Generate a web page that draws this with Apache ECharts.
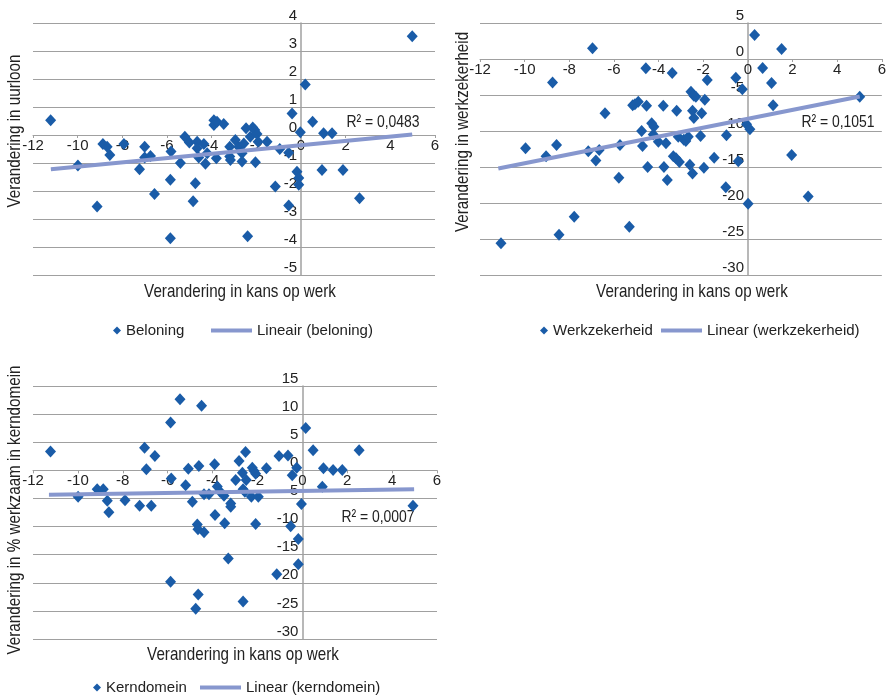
<!DOCTYPE html>
<html>
<head>
<meta charset="utf-8">
<script src="https://cdn.jsdelivr.net/npm/echarts@6/dist/echarts.min.js"></script>
<style>
  html, body { margin: 0; padding: 0; background: #fff; }
  #chart { width: 889px; height: 696px; }
</style>
</head>
<body>
<div id="chart"></div>
<script>
// punten: [verandering in kans op werk, verandering]
var beloning = [
  [-11.21, 0.53], [-9.99, -1.09], [-9.13, -2.55], [-8.87, -0.32], [-8.68, -0.42], [-8.56, -0.71],
  [-7.93, -0.32], [-7.23, -1.22], [-7.0, -0.42], [-7.0, -0.8], [-6.74, -0.75], [-6.56, -2.11],
  [-5.85, -1.6], [-5.85, -3.69], [-5.82, -0.59], [-5.4, -1.0], [-5.2, -0.06], [-5.0, -0.27],
  [-4.83, -2.37], [-4.73, -1.72], [-4.65, -0.24], [-4.65, -0.47], [-4.58, -0.8], [-4.35, -0.32],
  [-4.28, -1.03], [-4.2, -0.65], [-3.9, 0.53], [-3.9, 0.36], [-3.76, 0.47], [-3.79, -0.83],
  [-3.46, 0.39], [-3.19, -0.42], [-3.19, -0.77], [-3.16, -0.89], [-2.94, -0.18], [-2.79, -0.42],
  [-2.64, -0.65], [-2.64, -0.95], [-2.56, -0.3], [-2.46, 0.24], [-2.39, -3.62], [-2.27, -0.06],
  [-2.16, 0.27], [-2.07, 0.18], [-2.04, -0.97], [-1.97, 0.04], [-1.92, -0.24], [-1.52, -0.24],
  [-1.15, -1.84], [-0.95, -0.5], [-0.55, -0.63], [-0.55, -2.52], [-0.4, 0.77], [-0.18, -1.31],
  [-0.1, -1.54], [-0.1, -1.78], [-0.03, 0.1], [0.19, 1.8], [0.52, 0.47], [0.94, -1.25],
  [1.01, 0.06], [1.39, 0.06], [1.88, -1.25], [2.62, -2.26], [4.98, 3.53]
];
var werkzekerheid = [
  [-11.06, -25.6], [-9.96, -12.4], [-9.04, -13.5], [-8.75, -3.26], [-8.57, -11.95], [-8.46, -24.4],
  [-7.78, -21.9], [-7.15, -12.8], [-6.96, 1.49], [-6.81, -14.1], [-6.66, -12.65], [-6.4, -7.53],
  [-5.78, -16.5], [-5.73, -11.95], [-5.31, -23.3], [-5.16, -6.42], [-5.06, -6.28], [-4.91, -5.95],
  [-4.76, -10.0], [-4.72, -12.1], [-4.57, -1.3], [-4.54, -6.5], [-4.49, -15.0], [-4.31, -8.93],
  [-4.21, -9.4], [-4.24, -10.5], [-4.01, -11.5], [-3.79, -6.5], [-3.76, -15.0], [-3.67, -11.7],
  [-3.61, -16.8], [-3.39, -1.95], [-3.34, -13.5], [-3.22, -13.8], [-3.19, -7.2], [-3.12, -10.8],
  [-3.07, -14.3], [-2.87, -11.2], [-2.78, -11.4], [-2.67, -10.8], [-2.6, -14.7], [-2.55, -4.56],
  [-2.48, -7.2], [-2.48, -15.9], [-2.42, -5.1], [-2.42, -8.2], [-2.33, -5.26], [-2.12, -10.7],
  [-2.07, -7.53], [-1.97, -15.1], [-1.93, -5.67], [-1.82, -2.9], [-1.51, -13.7], [-0.96, -10.6],
  [-0.99, -17.8], [-0.54, -2.6], [-0.43, -14.2], [-0.25, -4.2], [-0.06, -9.07], [0.01, -20.1],
  [0.09, -9.77], [0.3, 3.35], [0.66, -1.26], [1.06, -3.35], [1.13, -6.42], [1.51, 1.4],
  [1.96, -13.35], [2.7, -19.1], [5.01, -5.26]
];
var kerndomein = [
  [-11.22, 3.35], [-9.99, -4.7], [-9.14, -3.35], [-8.87, -3.35], [-8.69, -5.4], [-8.62, -7.47],
  [-7.9, -5.3], [-7.25, -6.3], [-7.03, 4.0], [-6.95, 0.18], [-6.73, -6.3], [-6.57, 2.53],
  [-5.87, 8.53], [-5.84, -1.47], [-5.87, -19.8], [-5.45, 12.65], [-5.2, -2.65], [-5.08, 0.29],
  [-4.9, -5.6], [-4.75, -24.6], [-4.68, -9.65], [-4.65, -10.5], [-4.64, -22.1], [-4.61, 0.76],
  [-4.49, 11.5], [-4.38, -11.0], [-4.38, -4.24], [-4.16, -4.24], [-3.91, 1.06], [-3.89, -7.94],
  [-3.79, -2.88], [-3.67, -3.76], [-3.49, -4.53], [-3.46, -9.4], [-3.3, -15.7], [-3.19, -6.47],
  [-3.19, -5.9], [-2.97, -1.7], [-2.82, 1.65], [-2.67, -0.41], [-2.64, -3.35], [-2.64, -23.35],
  [-2.56, -3.8], [-2.53, 3.24], [-2.5, -1.7], [-2.27, -4.7], [-2.23, 0.47], [-2.15, -0.12],
  [-2.08, -0.59], [-2.08, -9.53], [-1.96, -4.7], [-1.6, 0.35], [-1.14, -18.5], [-1.04, 2.53],
  [-0.64, 2.65], [-0.52, -9.94], [-0.45, -0.88], [-0.25, 0.47], [-0.18, -12.2], [-0.18, -16.7],
  [-0.04, -6.0], [0.15, 7.53], [0.48, 3.59], [0.89, -2.94], [0.94, 0.35], [1.37, 0.06],
  [1.78, 0.06], [2.53, 3.59], [4.93, -6.3]
];
var trendBeloning = [[-11.2, -1.22], [4.98, 0.02]];
var trendWerkzekerheid = [[-11.18, -15.2], [5.01, -5.2]];
var trendKerndomein = [[-11.29, -4.35], [4.98, -3.35]];

var FONT = '"Liberation Sans", Arial, sans-serif';
var blauw = '#1A5CA8';
var lijn = '#8797CE';
var grijs = '#a0a0a0';
var diamond = 'path://M5,0 L10,5 L5,10 L0,5 Z';

var grids = [
  { left: 33, top: 23, width: 402, height: 252 },
  { left: 480, top: 23, width: 402, height: 252 },
  { left: 33, top: 386, width: 404, height: 253 }
];
var yBereik = [[-5, 4, 1], [-30, 5, 5], [-30, 15, 5]];

// x-as op y = 0, y-as op x = 0 (via offset, onZero werkt maar voor één as)
function xas(gi) {
  var r = yBereik[gi];
  var off = grids[gi].height * (0 - r[0]) / (r[1] - r[0]);
  return {
    type: 'value', gridIndex: gi, min: -12, max: 6, interval: 2,
    position: 'bottom', offset: -off,
    axisLine: { onZero: false, lineStyle: { color: grijs, width: 1 } },
    axisTick: { show: true, length: 3, lineStyle: { color: grijs } },
    axisLabel: { color: '#222', fontFamily: FONT, fontSize: 15, margin: 3 },
    splitLine: { show: false }
  };
}
function yas(gi) {
  var r = yBereik[gi];
  var off = grids[gi].width * 12 / 18;
  return {
    type: 'value', gridIndex: gi, min: r[0], max: r[1], interval: r[2],
    position: 'left', offset: -off,
    axisLine: { show: true, onZero: false, lineStyle: { color: grijs, width: 1.5 } },
    axisTick: { show: false },
    axisLabel: { color: '#222', fontFamily: FONT, fontSize: 15, margin: 4, verticalAlign: 'bottom' },
    splitLine: { show: true, lineStyle: { color: grijs, width: 1 } }
  };
}
function punten(naam, data, i) {
  return { name: naam, type: 'scatter', xAxisIndex: i, yAxisIndex: i, data: data,
    symbol: 'diamond', symbolSize: [11, 12], itemStyle: { color: blauw, opacity: 1 }, z: 3 };
}
function trend(naam, data, i) {
  return { name: naam, type: 'line', xAxisIndex: i, yAxisIndex: i, data: data,
    symbol: 'none', lineStyle: { color: lijn, width: 4 }, itemStyle: { color: lijn }, z: 4 };
}
function legPunt(naam, left, top) {
  return { left: left, top: top, padding: 0, itemWidth: 8, itemHeight: 9, itemGap: 0,
    textStyle: { color: '#222', fontFamily: FONT, fontSize: 15 },
    data: [{ name: naam, icon: diamond, itemStyle: { color: blauw } }] };
}
function legLijn(naam, left, top) {
  return { left: left, top: top, padding: 0, itemWidth: 41, itemHeight: 4, itemGap: 0,
    textStyle: { color: '#222', fontFamily: FONT, fontSize: 15 },
    data: [{ name: naam, icon: 'rect', itemStyle: { color: lijn } }] };
}
function tekst(t, x, y, rot, size, sx) {
  return { type: 'text', x: x, y: y, rotation: rot || 0, scaleX: sx || 0.8,
    style: { text: t, fill: '#222', font: (size || 19) + 'px ' + FONT, align: 'center', verticalAlign: 'middle' } };
}

var chart = echarts.init(document.getElementById('chart'));
var option = {
  animation: false,
  grid: grids,
  xAxis: [xas(0), xas(1), xas(2)],
  yAxis: [yas(0), yas(1), yas(2)],
  legend: [
    legPunt('Beloning', 113, 323),
    legLijn('Lineair (beloning)', 211, 323),
    legPunt('Werkzekerheid', 540, 323),
    legLijn('Linear (werkzekerheid)', 661, 323),
    legPunt('Kerndomein', 93, 680),
    legLijn('Linear (kerndomein)', 200, 680)
  ],
  series: [
    punten('Beloning', beloning, 0),
    trend('Lineair (beloning)', trendBeloning, 0),
    punten('Werkzekerheid', werkzekerheid, 1),
    trend('Linear (werkzekerheid)', trendWerkzekerheid, 1),
    punten('Kerndomein', kerndomein, 2),
    trend('Linear (kerndomein)', trendKerndomein, 2)
  ],
  graphic: [
    tekst('Verandering in uurloon', 15, 131, Math.PI / 2),
    tekst('Verandering in werkzekerheid', 463, 132, Math.PI / 2),
    tekst('Verandering in % werkzaam in kerndomein', 15, 510, Math.PI / 2),
    tekst('Verandering in kans op werk', 240, 292),
    tekst('Verandering in kans op werk', 692, 292),
    tekst('Verandering in kans op werk', 243, 655),
    tekst('R² = 0,0483', 383, 122, 0, 17, 0.82),
    tekst('R² = 0,1051', 838, 122, 0, 17, 0.82),
    tekst('R² = 0,0007', 378, 517, 0, 17, 0.82)
  ]
};
chart.setOption(option);
</script>
</body>
</html>
